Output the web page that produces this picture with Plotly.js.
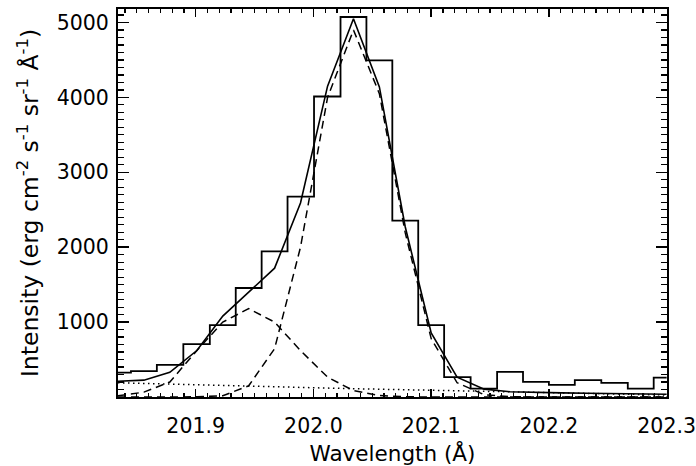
<!DOCTYPE html>
<html>
<head>
<meta charset="utf-8">
<script src="https://cdn.plot.ly/plotly-3.0.1.min.js"></script>
<style>
  html, body { margin: 0; padding: 0; background: #fff; }
  #chart { width: 696px; height: 466px; }
</style>
</head>
<body>
<div id="chart"></div>
<script>
// Wavelength grid of the spectrum (Å)
const wavelength = [201.834, 201.856, 201.878, 201.901, 201.923, 201.945, 201.967, 201.989,
                    202.012, 202.034, 202.056, 202.078, 202.100, 202.122, 202.145, 202.167,
                    202.189, 202.211, 202.233, 202.256, 202.278, 202.300];

// Observed intensity per spectral pixel
const observed = [325, 345, 430, 706, 960, 1455, 1945, 2675, 4012, 5073, 4494, 2355,
                  960, 265, 113, 336, 202, 162, 225, 189, 113, 260];

// Total fitted profile
const totalFit = [211, 225, 330, 620, 1080, 1400, 1720, 2590, 4150, 5050, 4140, 2270,
                  855, 265, 105, 70, 60, 55, 50, 45, 40, 37];

// Main line component
const mainLine = [0, 0, 0, 2, 16, 150, 645, 2000, 4000, 4900, 4050, 2190,
                  780, 190, 30, 3, 0, 0, 0, 0, 0, 0];

// Blue-wing component
const blueWing = [15, 65, 200, 620, 1000, 1180, 1000, 620, 265, 85, 20, 3,
                  0, 0, 0, 0, 0, 0, 0, 0, 0, 0];

// Background level
const background = [190, 180, 171, 162, 153, 144, 135, 127, 119, 111, 104, 97,
                    90, 83, 76, 69, 62, 55, 48, 41, 34, 27];

const yTicks = [1000, 2000, 3000, 4000, 5000];
const xTicks = [201.9, 202.0, 202.1, 202.2, 202.3];

const font = { family: 'DejaVu Sans', size: 20.5, color: '#000' };
const yTitleFont = { family: 'DejaVu Sans', size: 23.5, color: '#000' };

const traces = [
  { x: wavelength, y: observed, mode: 'lines', line: { shape: 'hvh', color: '#000', width: 1.8 } },
  { x: wavelength, y: totalFit, mode: 'lines', line: { color: '#000', width: 1.6 } },
  { x: wavelength, y: mainLine, mode: 'lines', line: { color: '#000', width: 1.5, dash: '8px,5px' } },
  { x: wavelength, y: blueWing, mode: 'lines', line: { color: '#000', width: 1.5, dash: '8px,5px' } },
  { x: wavelength, y: background, mode: 'lines', line: { color: '#000', width: 1.5, dash: '1.5px,3.5px' } }
];

const layout = {
  width: 696, height: 466,
  margin: { l: 118, r: 29, t: 9, b: 69 },
  paper_bgcolor: '#fff', plot_bgcolor: '#fff',
  showlegend: false,
  font: font,
  xaxis: {
    range: [201.834, 202.3003],
    tickvals: xTicks,
    ticktext: xTicks.map(v => v.toFixed(1)),
    ticks: 'inside', ticklen: 8, tickwidth: 1.5, tickcolor: '#000',
    minor: { ticks: 'inside', ticklen: 4, tickwidth: 1.2, tickcolor: '#000', dtick: 0.01, tick0: 201.9 },
    showline: true, linecolor: '#000', linewidth: 2, mirror: 'allticks',
    showgrid: false, zeroline: false,
    tickfont: font,
    ticklabelstandoff: 9,
    ticklabeloverflow: 'allow',
    title: { text: 'Wavelength (Å)', font: { family: 'DejaVu Sans', size: 21.5, color: '#000' }, standoff: 11 }
  },
  yaxis: {
    range: [0, 5180],
    tickvals: yTicks,
    ticks: 'inside', ticklen: 11, tickwidth: 1.5, tickcolor: '#000',
    minor: { ticks: 'inside', ticklen: 6, tickwidth: 1.2, tickcolor: '#000', dtick: 100, tick0: 0 },
    showline: true, linecolor: '#000', linewidth: 2, mirror: 'allticks',
    showgrid: false, zeroline: false,
    tickfont: font,
    ticklabelstandoff: 3,
    title: { text: 'Intensity (erg cm<sup>-2</sup> s<sup>-1</sup> sr<sup>-1</sup> Å<sup>-1</sup>)', font: yTitleFont, standoff: 12 }
  }
};

Plotly.newPlot('chart', traces, layout, { staticPlot: true, displayModeBar: false });
</script>
</body>
</html>
